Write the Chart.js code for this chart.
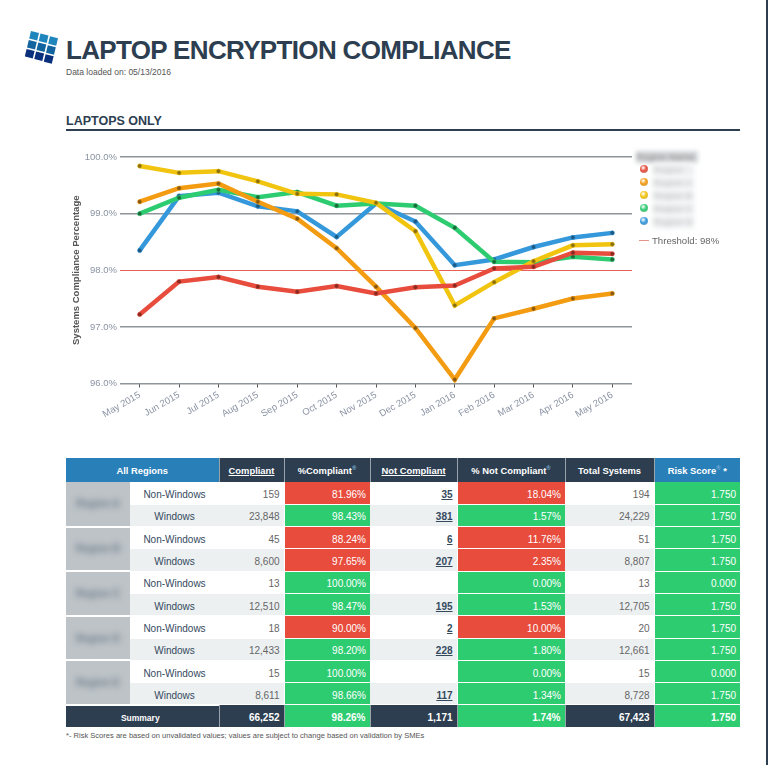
<!DOCTYPE html>
<html><head><meta charset="utf-8">
<script src="https://cdn.jsdelivr.net/npm/chart.js@4"></script>
<style>
html,body{margin:0;padding:0;background:#fff;}
body{width:768px;height:765px;position:relative;overflow:hidden;font-family:"Liberation Sans",Arial,sans-serif;color:#2c3e50;}
.abs{position:absolute;}
#edge{left:766px;top:0;width:2px;height:765px;background:#2c3e50;}
#title{left:66px;top:35px;font-size:26px;font-weight:bold;line-height:30px;white-space:nowrap;letter-spacing:-0.66px;color:#2c3e50;}
#loaded{left:66px;top:67px;font-size:8.5px;line-height:10px;color:#555;}
#sub{left:66px;top:114px;font-size:12.5px;font-weight:bold;line-height:15px;color:#2c3e50;letter-spacing:0;}
#rule{left:66px;top:129px;width:674px;height:2px;background:#2c3e50;}
#chartBox{left:62px;top:145px;width:580px;height:300px;}
#legend{left:636px;top:150px;width:110px;font-size:9.6px;color:#666;}
.lg{position:absolute;left:0;white-space:nowrap;}
.dot{position:absolute;left:4px;width:8px;height:8px;border-radius:50%;}
.blurtext{filter:blur(2.5px);color:#bbb;background:#eef0f1;}
.blurhead{filter:blur(2px);color:#888;background:#d2d5d8;}
table{position:absolute;left:66px;top:458px;width:674px;table-layout:fixed;border-collapse:collapse;font-size:10px;}
td,th{padding:0 3px;box-sizing:border-box;overflow:hidden;white-space:nowrap;}
th{color:#fff;font-weight:bold;text-align:center;background:#2c3e50;height:24px;border-left:1px solid #9aa2aa;font-size:9.4px;}
th.bl{background:#2980b9;}
th u{text-decoration:underline;}
th sup{font-size:6px;color:#7fb3d5;line-height:0;}
td{height:22.3px;color:#666;text-align:right;padding:3px 4px 0 0;border-bottom:1px solid #fff;}
tr.alt td{background:#ecf0f1;}
td.type{text-align:center;color:#34495e;padding:3px 0 0 0;}
td.reg{background:#bdc3c7 !important;text-align:center;border-bottom:2px solid #fff;padding:0;}
td.reg span{display:inline-block;filter:blur(3px);color:#6c7a89;font-weight:bold;}
td.red{background:#e74c3c !important;color:#fff;border-left:1px solid #fff;border-bottom:1px solid #fff;}
td.grn{background:#2ecc71 !important;color:#fff;border-left:1px solid #fff;border-bottom:1px solid #fff;}
td.lnk{text-decoration:underline;color:#34495e;font-weight:bold;}
tr.sum td{background:#2c3e50;color:#fff;font-weight:bold;border-bottom:0;border-left:1px solid #9aa2aa;}
tr.sum td.grn{background:#2ecc71 !important;}
tr.sum td.s{text-align:center;font-size:8.5px;}
#foot{left:66px;top:731px;font-size:7.55px;line-height:9px;color:#555;white-space:nowrap;}
</style></head>
<body>
<div class="abs" id="edge"></div>
<svg class="abs" style="left:25px;top:29px" width="36" height="36" viewBox="0 0 36 36" id="logo"></svg>
<div class="abs" id="title">LAPTOP ENCRYPTION COMPLIANCE</div>
<div class="abs" id="loaded">Data loaded on: 05/13/2016</div>
<div class="abs" id="sub">LAPTOPS ONLY</div>
<div class="abs" id="rule"></div>
<div class="abs" id="chartBox"><canvas id="c" width="580" height="300"></canvas></div>
<div class="abs" id="legend"></div>
<table id="t"></table>
<div class="abs" id="foot">*- Risk Scores are based on unvalidated values; values are subject to change based on validation by SMEs</div>
<script>
const months=["May 2015","Jun 2015","Jul 2015","Aug 2015","Sep 2015","Oct 2015","Nov 2015","Dec 2015","Jan 2016","Feb 2016","Mar 2016","Apr 2016","May 2016"];
const redValues=[97.22,97.80,97.88,97.71,97.62,97.72,97.59,97.70,97.73,98.03,98.06,98.31,98.29];
const orangeValues=[99.21,99.45,99.53,99.21,98.91,98.39,97.71,96.98,96.07,97.15,97.32,97.50,97.59];
const yellowValues=[99.84,99.72,99.75,99.57,99.35,99.34,99.19,98.69,97.38,97.79,98.16,98.44,98.46];
const greenValues=[99.00,99.28,99.42,99.29,99.38,99.14,99.18,99.14,98.75,98.15,98.14,98.24,98.19];
const blueValues=[98.35,99.31,99.37,99.13,99.04,98.59,99.18,98.86,98.09,98.19,98.41,98.58,98.66];
const threshold=98;
const seriesNames=["Region","Region A","Region B","Region C","Region D"];
const seriesColors=["#e74c3c","#f39c12","#f1c40f","#2ecc71","#3498db"];
const regions=["Region A","Region B","Region C","Region D","Region E"];
const rowTypes=["Non-Windows","Windows"];
const compliant=["159","23,848","45","8,600","13","12,510","18","12,433","15","8,611"];
const pctCompliant=["81.96%","98.43%","88.24%","97.65%","100.00%","98.47%","90.00%","98.20%","100.00%","98.66%"];
const notCompliant=["35","381","6","207","","195","2","228","","117"];
const pctNot=["18.04%","1.57%","11.76%","2.35%","0.00%","1.53%","10.00%","1.80%","0.00%","1.34%"];
const totals=["194","24,229","51","8,807","13","12,705","20","12,661","15","8,728"];
const risk=["1.750","1.750","1.750","1.750","0.000","1.750","1.750","1.750","0.000","1.750"];
const summary=["66,252","98.26%","1,171","1.74%","67,423","1.750"];
const colWidths=[64,89,65,86,87,108,89,86];

// logo
(function(){
 const cols=["#1f86bd","#12649f","#0a2f7c"];
 let s="";
 for(let r=0;r<3;r++)for(let c=0;c<3;c++){
  const x=6+c*9.5-r*2.2, y=2+r*9+c*2.6;
  s+=`<polygon points="${x},${y} ${x+8},${y+2} ${x+6.2},${y+9.5} ${x-1.8},${y+7.5}" fill="${cols[r]}"/>`;
 }
 document.getElementById("logo").innerHTML=s;
})();

// legend
(function(){
 const L=document.getElementById("legend");
 let h=`<div class="lg blurhead" style="left:0;top:1px;width:62px;height:12px;line-height:12px;">Region Name</div>`;
 seriesNames.forEach((n,i)=>{
  const y=14+i*13;
  h+=`<div class="dot" style="top:${y+1}px;background:radial-gradient(circle at 40% 35%,#fff6 0,${seriesColors[i]} 45%,#0004 120%);"></div>`;
  h+=`<div class="lg blurtext" style="left:17px;top:${y}px;width:41px;height:12px;line-height:12px;">${n}</div>`;
 });
 h+=`<div class="abs" style="left:3px;top:90px;width:10px;height:1px;background:#e8908a"></div>`;
 h+=`<div class="lg" style="left:16px;top:85px;line-height:11px;">Threshold: ${threshold}%</div>`;
 L.innerHTML=h;
})();

// table
(function(){
 const isRed=v=>parseFloat(v)<threshold;
 const notRed=v=>parseFloat(v)>100-threshold;
 let h="<colgroup>"+colWidths.map(w=>`<col style="width:${w}px">`).join("")+"</colgroup>";
 h+=`<tr><th class="bl" colspan="2" style="border-left:0">All Regions</th><th><u>Compliant</u></th><th>%Compliant<sup>®</sup></th><th><u>Not Compliant</u></th><th>% Not Compliant<sup>®</sup></th><th>Total Systems</th><th class="bl">Risk Score<sup>®</sup> *</th></tr>`;
 compliant.forEach((_,i)=>{
  const alt=i%2===1;
  h+=`<tr class="${alt?"alt":""}">`;
  if(!alt)h+=`<td class="reg" rowspan="2"><span>${regions[i/2]}</span></td>`;
  h+=`<td class="type">${rowTypes[i%2]}</td><td>${compliant[i]}</td>`;
  h+=`<td class="${isRed(pctCompliant[i])?"red":"grn"}">${pctCompliant[i]}</td>`;
  h+=`<td class="lnk">${notCompliant[i]}</td>`;
  h+=`<td class="${notRed(pctNot[i])?"red":"grn"}">${pctNot[i]}</td>`;
  h+=`<td>${totals[i]}</td><td class="grn">${risk[i]}</td></tr>`;
 });
 h+=`<tr class="sum"><td class="s" colspan="2" style="border-left:0">Summary</td><td>${summary[0]}</td><td class="grn">${summary[1]}</td><td>${summary[2]}</td><td class="grn">${summary[3]}</td><td>${summary[4]}</td><td class="grn">${summary[5]}</td></tr>`;
 document.getElementById("t").innerHTML=h;
})();

// chart
const vals=[redValues,orangeValues,yellowValues,greenValues,blueValues];
const darker={"#e74c3c":"#8a2a20","#f39c12":"#8a5a10","#f1c40f":"#8a7010","#2ecc71":"#1a6a3a","#3498db":"#1c5a85"};
new Chart(document.getElementById("c"),{
 type:"line",
 data:{labels:months,datasets:seriesNames.map((n,i)=>({
  label:n,data:vals[i],borderColor:seriesColors[i],borderWidth:4.5,tension:0,
  pointRadius:2.2,pointBackgroundColor:darker[seriesColors[i]],pointBorderColor:seriesColors[i],pointBorderWidth:0.5,clip:false
 }))},
 options:{
  responsive:false,animation:false,
  layout:{padding:{left:0,right:10,top:12,bottom:0}},
  plugins:{legend:{display:false},tooltip:{enabled:false}},
  scales:{
   x:{offset:true,
    grid:{display:true,drawOnChartArea:false,drawTicks:true,tickLength:4,tickColor:"#555"},
    border:{display:false},
    ticks:{minRotation:30,maxRotation:30,color:"#8a93a3",font:{size:9.5,family:"Liberation Sans"},padding:2,autoSkip:false},
    afterFit(s){s.height=61.5;}
   },
   y:{min:96,max:100,
    grid:{color:c=>c.tick.value===threshold?"#e8605a":"#8e969c",lineWidth:c=>c.tick.value===threshold?1:1.5,drawTicks:false},
    border:{display:false},
    ticks:{stepSize:1,padding:3,color:"#8a93a3",font:{size:9.5,family:"Liberation Sans"},callback:v=>v.toFixed(1)+"%"},
    title:{display:true,text:"Systems Compliance Percentage",color:"#555",font:{size:9.5,weight:"bold",family:"Liberation Sans"},padding:{top:9,bottom:4}},
    afterFit(s){s.width=58;}
   }
  }
 }
});
</script>
</body></html>
